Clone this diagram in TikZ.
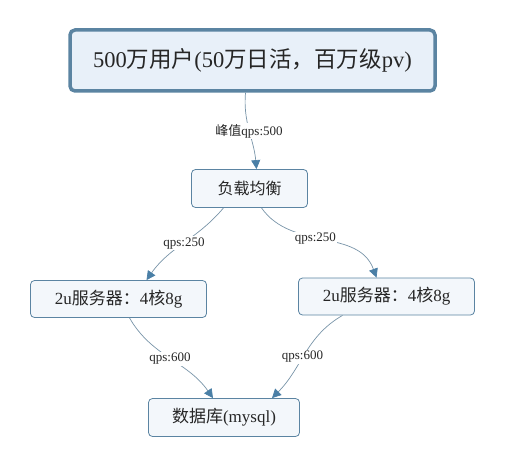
\documentclass[tikz,border=0pt]{standalone}
\usepackage{fontspec}
\setmainfont{Liberation Serif}
\newfontfamily\cjk{Noto Sans CJK SC}
\usetikzlibrary{arrows.meta}
\definecolor{boxline}{HTML}{5B84A2}
\definecolor{topfill}{HTML}{E8F0F9}
\definecolor{boxfill}{HTML}{F3F7FB}
\definecolor{linkgray}{HTML}{7894A8}
\definecolor{tipblue}{HTML}{4A7FA6}

\begin{document}
\begin{tikzpicture}[x=1pt, y=-1pt, every node/.style={draw=boxline, fill=boxfill, rounded corners=4pt, line width=0.8pt, text=black!85}, lbl/.style={draw=none, fill=white, rounded corners=0pt, inner sep=1pt, font=\fontsize{13}{13}\selectfont}, link/.style={draw=linkgray, line width=0.7pt, -{Triangle[length=9pt, width=9pt, color=tipblue]}}]

                \useasboundingbox (0,0) rectangle (505,465);

                \node [line width=3.5pt, fill=topfill, rounded corners=5pt, minimum width=365pt, minimum height=61pt, font=\fontsize{22.5}{22.5}\selectfont] (users) at (252.5,60.5) {500{\cjk 万用户}(50{\cjk 万日活，百万级}pv)};
                \node [minimum width=116pt, minimum height=38pt, font=\fontsize{16}{16}\selectfont] (lb) at (249.5,188.5) {\cjk 负载均衡};
                \node [minimum width=176pt, minimum height=37pt, font=\fontsize{17}{17}\selectfont] (srvA) at (118.5,299) {2u{\cjk 服务器：}4{\cjk 核}8g};
                \node [minimum width=176pt, minimum height=37pt, font=\fontsize{17}{17}\selectfont] (srvB) at (386.5,296.5) {2u{\cjk 服务器：}4{\cjk 核}8g};
                \node [minimum width=151pt, minimum height=38pt, font=\fontsize{17}{17}\selectfont] (db) at (224,417.5) {{\cjk 数据库}(mysql)};

                % Peak
                \draw [link] ([xshift=-7pt]users.south) to [out=-95, in=95] node [lbl] (peak) {{\cjk 峰值}qps:500} ([xshift=7pt]lb.north);
                % Split
                \draw [link] ([xshift=-26pt]lb.south) to [out=-130, in=55] node [lbl] (qpsA) {qps:250} ([xshift=28pt]srvA.north);
                \draw [link] ([xshift=12pt]lb.south) to [out=-55, in=110] node [lbl, pos=0.44] (qpsB) {qps:250} ([xshift=-10pt]srvB.north);
                % Database
                \draw [link] ([xshift=11pt]srvA.south) to [out=-60, in=125] node [lbl] (dbA) {qps:600} ([xshift=-11pt]db.north);
                \draw [link] ([xshift=-44pt]srvB.south) to [out=-150, in=45] node [lbl, pos=0.54] (dbB) {qps:600} ([xshift=48pt]db.north);

            \end{tikzpicture}
\end{document}
